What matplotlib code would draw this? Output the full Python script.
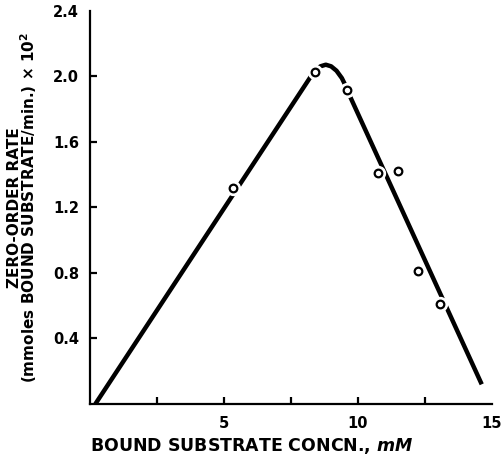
import matplotlib
matplotlib.use("Agg")
import matplotlib.pyplot as plt

# measured points (open circles)
conc = [5.35, 8.40, 9.60, 10.76, 11.49, 12.26, 13.07]
rate = [1.32, 2.03, 1.92, 1.41, 1.42, 0.81, 0.61]

# hand-drawn fitted curve
curve_x = [0.2, 8.2, 8.4, 8.6, 8.8, 9.0, 9.2, 9.4, 9.55, 9.7, 14.62]
curve_y = [0.0, 1.99, 2.035, 2.062, 2.072, 2.062, 2.035, 1.99, 1.94, 1.88, 0.12]

xticks = [2.5, 5, 7.5, 10, 12.5, 15]
xticklabels = ["", "5", "", "10", "", "15"]
yticks = [0.4, 0.8, 1.2, 1.6, 2.0, 2.4]
yticklabels = ["0.4", "0.8", "1.2", "1.6", "2.0", "2.4"]

plt.rcParams["font.family"] = ["DejaVu Sans"]
plt.rcParams["font.weight"] = "bold"
plt.rcParams["mathtext.fontset"] = "custom"
plt.rcParams["mathtext.it"] = "DejaVu Sans:italic:bold"
plt.rcParams["mathtext.rm"] = "DejaVu Sans:bold"

fig = plt.figure(figsize=(5.04, 4.58), dpi=100)
ax = fig.add_axes([0.1786, 0.118, 0.7974, 0.858])

ax.plot(curve_x, curve_y, color="black", lw=3.2, solid_capstyle="butt",
        solid_joinstyle="round", zorder=2)
ax.plot(conc, rate, linestyle="none", marker="o", markersize=10,
        markerfacecolor="white", markeredgecolor="white", zorder=3)
ax.plot(conc, rate, linestyle="none", marker="o", markersize=5.5,
        markerfacecolor="white", markeredgecolor="black", markeredgewidth=1.6, zorder=4)

ax.set_xlim(0, 15)
ax.set_ylim(0, 2.4)
ax.spines["top"].set_visible(False)
ax.spines["right"].set_visible(False)
ax.spines["left"].set_linewidth(1.6)
ax.spines["bottom"].set_linewidth(1.6)

ax.set_xticks(xticks)
ax.set_xticklabels(xticklabels, fontsize=10.5, fontweight="bold")
ax.set_yticks(yticks)
ax.set_yticklabels(yticklabels, fontsize=10.5, fontweight="bold")
ax.tick_params(direction="in", length=5, width=1.6, pad=8)
ax.tick_params(axis="x", pad=9)
ax.yaxis.get_major_ticks()[-1].tick1line.set_visible(False)
ax.xaxis.get_major_ticks()[-1].tick1line.set_visible(False)

ax.set_xlabel("BOUND SUBSTRATE CONCN., $mM$", fontsize=12.5, fontweight="bold",
              loc="left", labelpad=3)
ax.set_ylabel("ZERO-ORDER RATE\n(mmoles BOUND SUBSTRATE/min.) $\\times$ 10$^2$",
              fontsize=11, fontweight="bold", linespacing=0.8)
ax.yaxis.set_label_coords(-0.127, 0.5)

fig.savefig("out.png", dpi=100)
